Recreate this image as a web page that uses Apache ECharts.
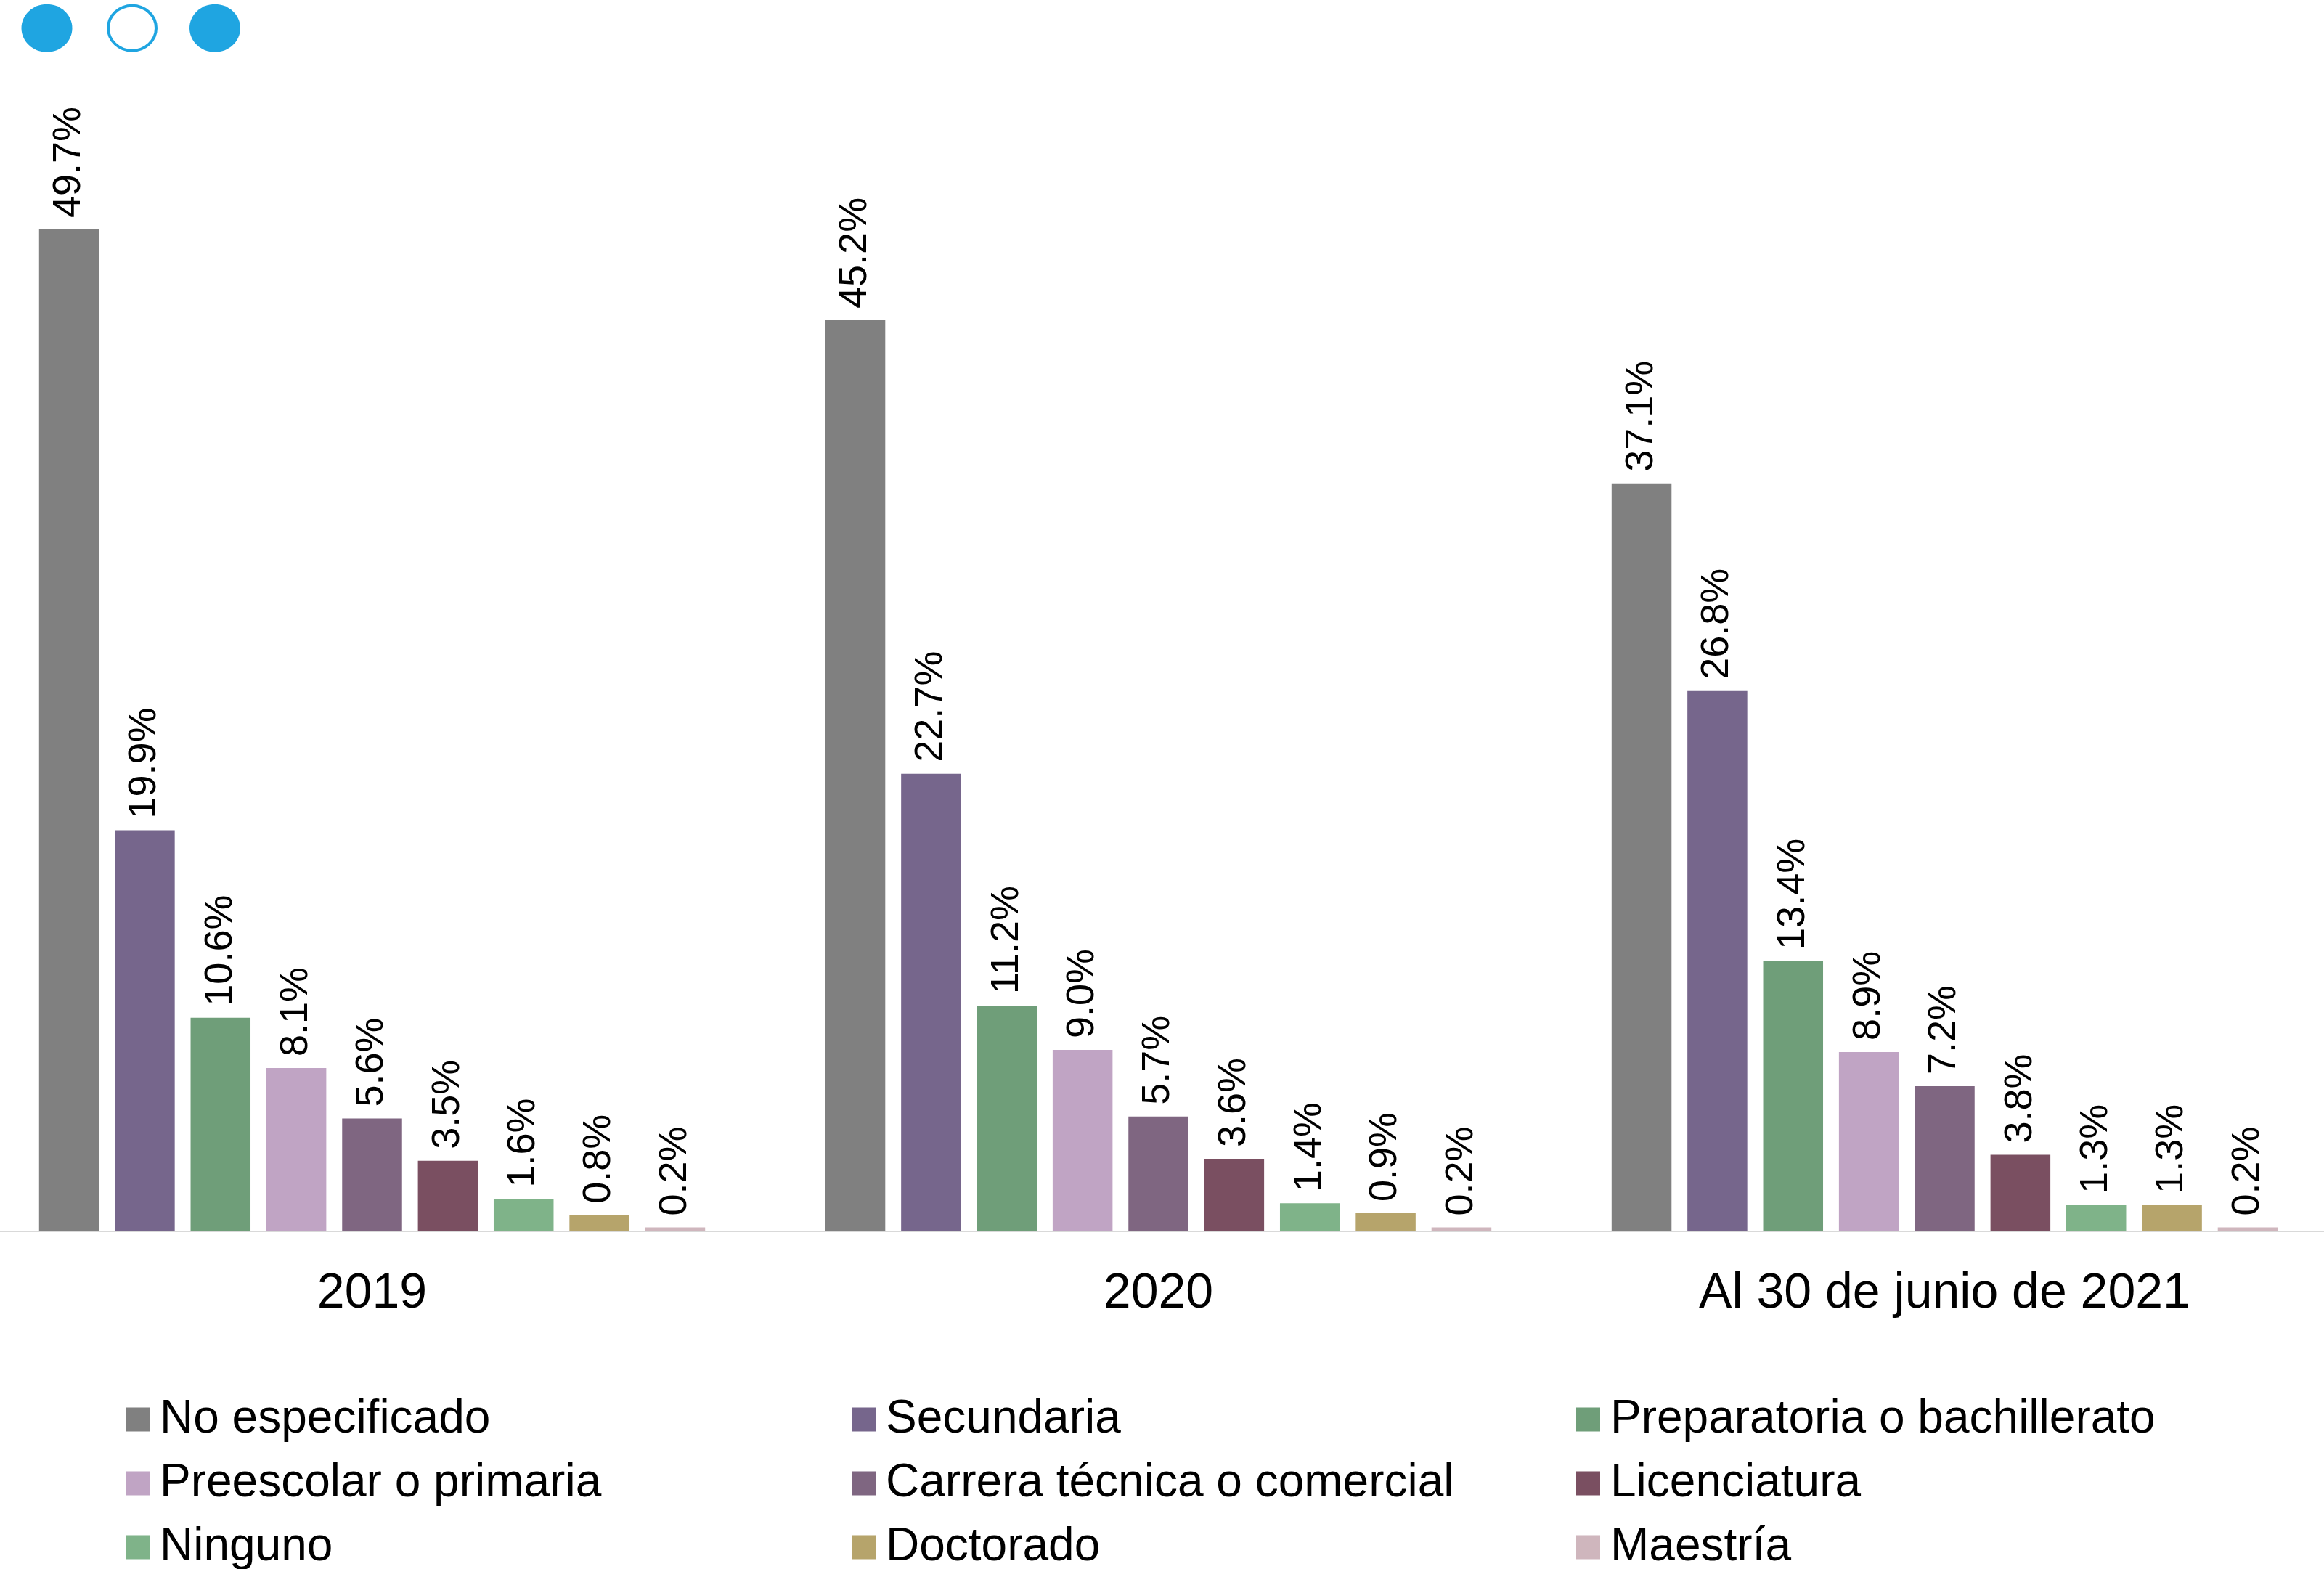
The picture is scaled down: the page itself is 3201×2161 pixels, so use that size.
<!DOCTYPE html>
<html>
<head>
<meta charset="utf-8">
<script src="https://cdn.jsdelivr.net/npm/echarts@6/dist/echarts.min.js"></script>
<style>
html,body{margin:0;padding:0;background:#fff;overflow:hidden;width:3201px;height:2161px;}
#chart{position:absolute;left:-29px;top:0;width:3249px;height:2300px;}
</style>
</head>
<body>
<div id="chart"></div>
<script>
// ---- data ----
const categories = ['2019', '2020', 'Al 30 de junio de 2021'];
const seriesNames = [
  'No especificado', 'Secundaria', 'Preparatoria o bachillerato',
  'Preescolar o primaria', 'Carrera técnica o comercial', 'Licenciatura',
  'Ninguno', 'Doctorado', 'Maestría'
];
const noEspecificado = [49.7, 45.2, 37.1];
const secundaria = [19.9, 22.7, 26.8];
const preparatoria = [10.6, 11.2, 13.4];
const preescolar = [8.1, 9.0, 8.9];
const carreraTecnica = [5.6, 5.7, 7.2];
const licenciatura = [3.5, 3.6, 3.8];
const ninguno = [1.6, 1.4, 1.3];
const doctorado = [0.8, 0.9, 1.3];
const maestria = [0.2, 0.2, 0.2];
const seriesValues = [noEspecificado, secundaria, preparatoria, preescolar,
  carreraTecnica, licenciatura, ninguno, doctorado, maestria];

// ---- styles ----
const colors = ['#808080', '#76668c', '#6f9e79', '#c0a4c4', '#7f6681',
  '#7a4f61', '#7fb389', '#b6a46b', '#cfb6bd'];
const FONT = '"Liberation Sans", Arial, Helvetica, sans-serif';
const OFF = 29; // chart canvas is shifted left by this many px
const EXTRA_H = 139; // canvas taller than the window by this many px

const series = seriesNames.map((name, i) => ({
  name: name,
  type: 'bar',
  data: seriesValues[i],
  barWidth: 82.5,
  barGap: '26.5%',
  itemStyle: { color: colors[i] },
  label: {
    show: true,
    position: 'top',
    rotate: 90,
    align: 'left',
    verticalAlign: 'middle',
    distance: 16,
    fontSize: 54,
    fontFamily: FONT,
    color: '#000',
    formatter: p => p.value.toFixed(1) + '%'
  }
}));

function legendCol(names, left) {
  return {
    data: names,
    orient: 'vertical',
    left: left + OFF,
    top: 1923,
    padding: 0,
    itemGap: 24,
    itemWidth: 33,
    itemHeight: 33,
    icon: 'rect',
    selectedMode: false,
    textStyle: { fontSize: 64, lineHeight: 64, fontFamily: FONT, color: '#000', padding: [0, 0, 0, 9] }
  };
}

const chart = echarts.init(document.getElementById('chart'), null, { renderer: 'canvas' });
chart.setOption({
  backgroundColor: '#fff',
  animation: false,
  color: colors,
  grid: { left: 0, right: 0, top: 30, bottom: 465 + EXTRA_H, containLabel: false },
  xAxis: {
    type: 'category',
    data: categories,
    axisTick: { show: false },
    axisLine: { lineStyle: { color: '#d9d9d9', width: 2 } },
    axisLabel: { fontSize: 68, fontFamily: FONT, color: '#000', margin: 52 }
  },
  yAxis: {
    type: 'value',
    min: 0,
    max: 60,
    show: false,
    splitLine: { show: false }
  },
  legend: [
    legendCol([seriesNames[0], seriesNames[3], seriesNames[6]], 173),
    legendCol([seriesNames[1], seriesNames[4], seriesNames[7]], 1173),
    legendCol([seriesNames[2], seriesNames[5], seriesNames[8]], 2171)
  ],
  graphic: [
    { type: 'ellipse', shape: { cx: 64.5 + OFF, cy: 38.7, rx: 35, ry: 33 }, style: { fill: '#1fa5e1' } },
    { type: 'ellipse', shape: { cx: 182 + OFF, cy: 38.7, rx: 33, ry: 31 }, style: { fill: 'none', stroke: '#1fa5e1', lineWidth: 4 } },
    { type: 'ellipse', shape: { cx: 296 + OFF, cy: 38.7, rx: 35, ry: 33 }, style: { fill: '#1fa5e1' } }
  ],
  series: series
});
</script>
</body>
</html>
